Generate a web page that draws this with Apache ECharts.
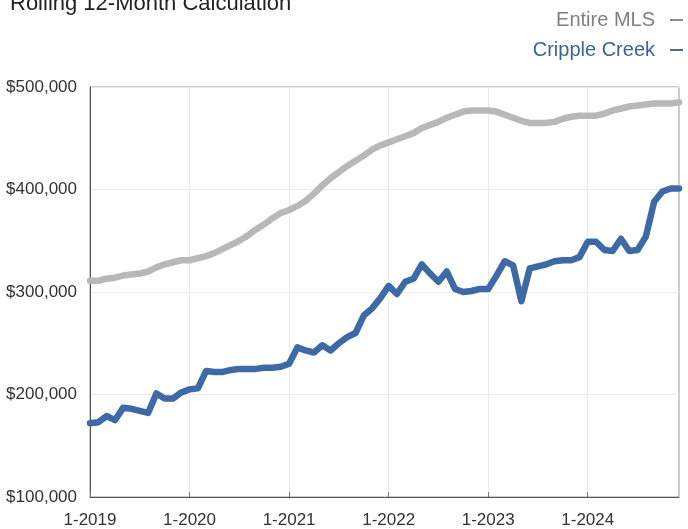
<!DOCTYPE html>
<html>
<head>
<meta charset="utf-8">
<script src="https://cdn.jsdelivr.net/npm/echarts@6/dist/echarts.min.js"></script>
<style>
  html, body { margin: 0; padding: 0; background: #fff; }
  #chart { width: 688px; height: 529px; }
</style>
</head>
<body>
<div id="chart"></div>
<script>
// Median sales price, rolling 12-month figures, Jan 2019 – Dec 2024
const years = [2019, 2020, 2021, 2022, 2023, 2024];
const categories = [];
years.forEach(function (y) {
  for (let m = 1; m <= 12; m++) categories.push(m + '-' + y);
});

// Entire MLS (USD)
const entireMLS = [
  311000, 311000, 313000, 314000, 316000, 317000, 318000, 320000, 324000, 327000, 329000, 331000,
  331000, 333000, 335000, 338000, 342000, 346000, 350000, 355000, 361000, 366000, 372000, 377000,
  380000, 384000, 389000, 396000, 404000, 411000, 417000, 423000, 428000, 433000, 439000, 443000,
  446000, 449000, 452000, 455000, 460000, 463000, 466000, 470000, 473000, 476000, 477000, 477000,
  477000, 476000, 473000, 470000, 467000, 465000, 465000, 465000, 466000, 469000, 471000, 472000,
  472000, 472000, 474000, 477000, 479000, 481000, 482000, 483000, 484000, 484000, 484000, 485000
];

// Cripple Creek (USD)
const crippleCreek = [
  172000, 173000, 179000, 175000, 187000, 186000, 184000, 182000, 201000, 196000, 196000, 202000,
  205000, 206000, 223000, 222000, 222000, 224000, 225000, 225000, 225000, 226000, 226000, 227000,
  230000, 246000, 243000, 241000, 248000, 243000, 250000, 256000, 260000, 277000, 284000, 294000,
  306000, 298000, 310000, 313000, 327000, 318000, 310000, 320000, 303000, 300000, 301000, 303000,
  303000, 316000, 330000, 326000, 291000, 323000, 325000, 327000, 330000, 331000, 331000, 334000,
  349000, 349000, 341000, 340000, 352000, 340000, 341000, 354000, 388000, 398000, 401000, 401000
];

const yMin = 100000, yMax = 500000, yStep = 100000;

const FONT = "'Liberation Sans', Arial, Helvetica, sans-serif";
const GRAY = '#b8b8b8';
const BLUE = '#3d6aa6';

const isYearStart = function (i) { return i % 12 === 0; };

const chart = echarts.init(document.getElementById('chart'), null, { renderer: 'canvas' });
chart.setOption({
  animation: false,
  backgroundColor: '#ffffff',
  title: {
    text: 'Rolling 12-Month Calculation',
    left: 10,
    top: -7,
    padding: 0,
    textStyle: { fontFamily: FONT, fontSize: 22, fontWeight: 'normal', color: '#222' }
  },
  legend: {
    orient: 'vertical',
    align: 'right',
    right: 5,
    top: 10,
    padding: 0,
    itemGap: 10,
    itemWidth: 13,
    itemHeight: 2,
    icon: 'rect',
    selectedMode: false,
    textStyle: { fontFamily: FONT, fontSize: 20, lineHeight: 20, padding: [0, 10, 0, 0] },
    data: [
      { name: 'Entire MLS', textStyle: { color: '#808080' }, itemStyle: { color: '#8a8a8a' } },
      { name: 'Cripple Creek', textStyle: { color: '#3b6594' }, itemStyle: { color: '#5a6a80' } }
    ]
  },
  grid: {
    left: 90, right: 9, top: 87, bottom: 31,
    show: true, borderColor: '#9a9a9a', borderWidth: 1
  },
  xAxis: {
    type: 'category',
    data: categories,
    boundaryGap: false,
    axisLine: { lineStyle: { color: '#555', width: 1 } },
    axisTick: { show: true, inside: true, length: 5, interval: isYearStart, lineStyle: { color: '#777' } },
    axisLabel: {
      interval: isYearStart,
      margin: 15,
      fontFamily: FONT, fontSize: 17, color: '#333'
    },
    splitLine: { show: true, interval: isYearStart, lineStyle: { color: '#ebebeb', width: 1 } }
  },
  yAxis: {
    type: 'value',
    min: yMin, max: yMax, interval: yStep,
    axisLine: { show: true, lineStyle: { color: '#555', width: 1 } },
    axisTick: { show: false },
    axisLabel: {
      margin: 13,
      fontFamily: FONT, fontSize: 17, color: '#333',
      formatter: function (v) { return '$' + v.toLocaleString('en-US'); }
    },
    splitLine: { show: true, lineStyle: { color: '#ebebeb', width: 1 } }
  },
  series: [
    {
      name: 'Entire MLS', type: 'line', data: entireMLS,
      symbol: 'none', smooth: false,
      lineStyle: { color: GRAY, width: 6.5, join: 'round', cap: 'round' },
      itemStyle: { color: GRAY },
      emphasis: { disabled: true }, z: 2
    },
    {
      name: 'Cripple Creek', type: 'line', data: crippleCreek,
      symbol: 'none', smooth: false,
      lineStyle: { color: BLUE, width: 6.5, join: 'round', cap: 'round' },
      itemStyle: { color: BLUE },
      emphasis: { disabled: true }, z: 3
    }
  ]
});
</script>
</body>
</html>
